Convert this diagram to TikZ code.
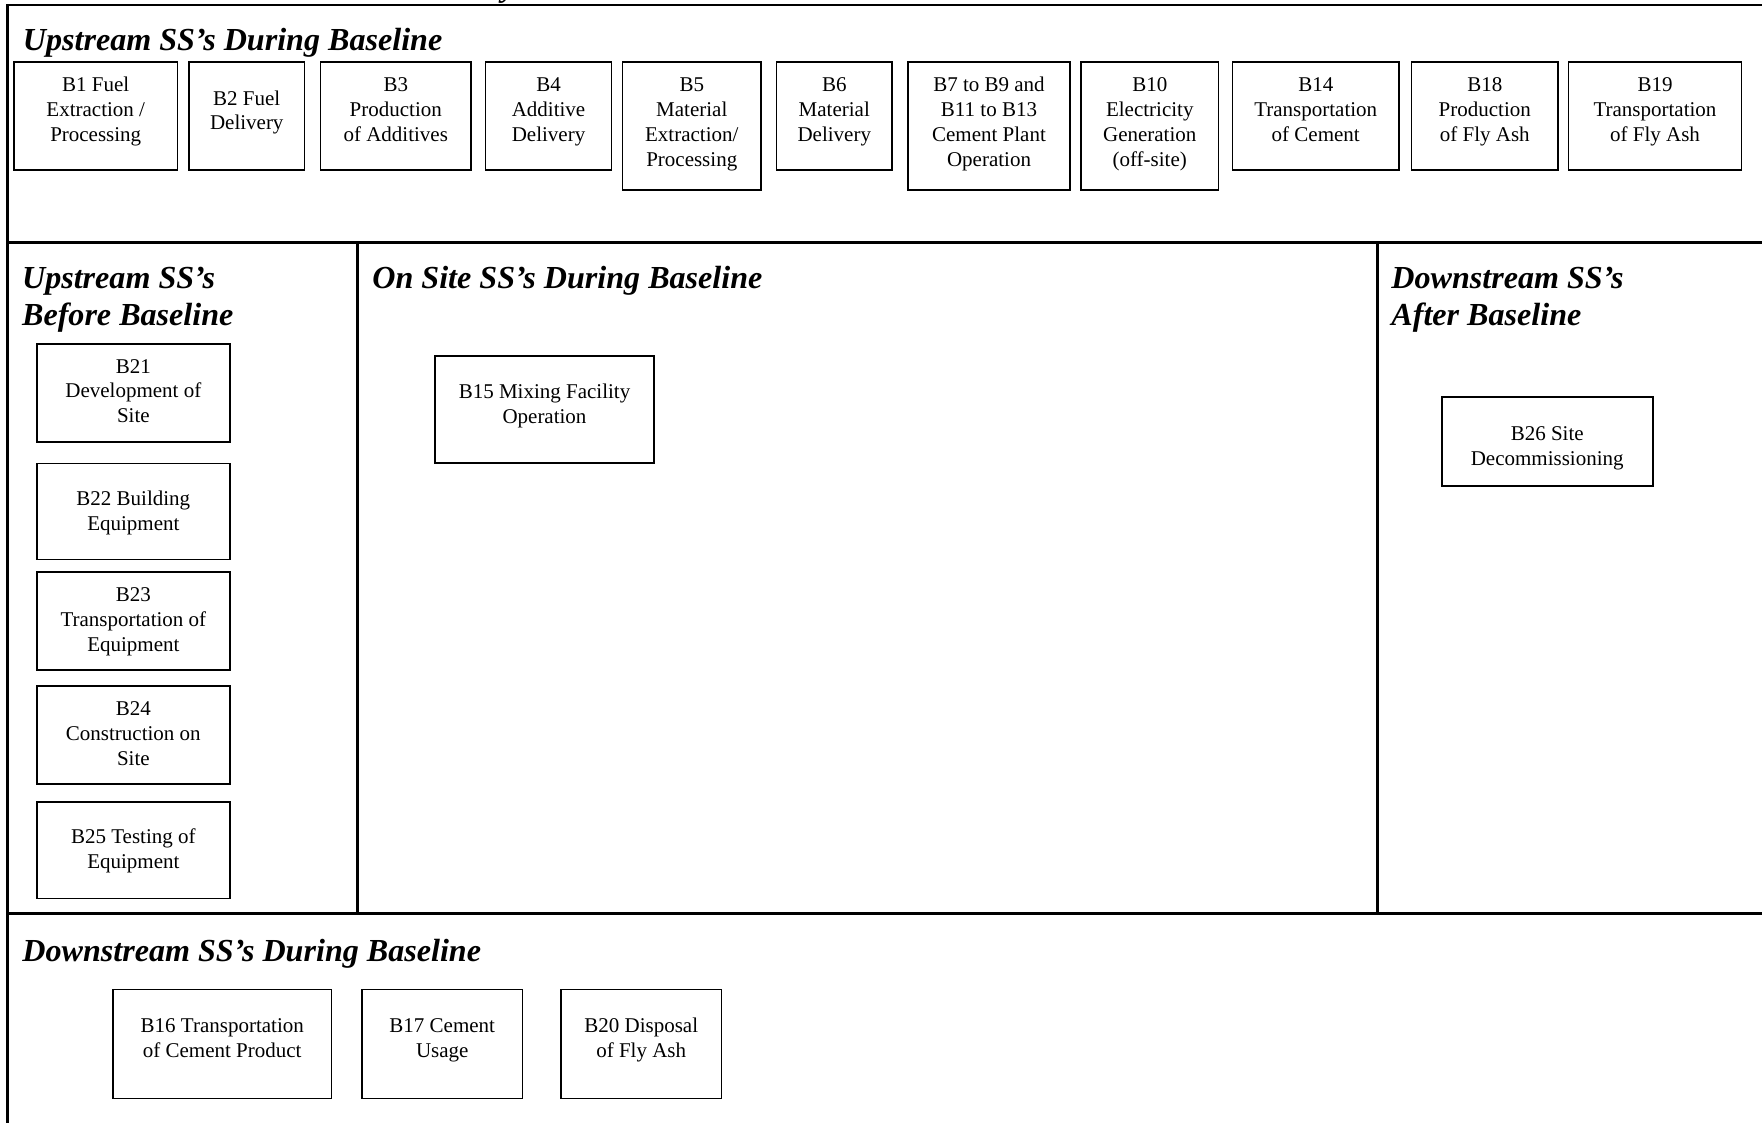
\documentclass[tikz,border=0pt]{standalone}
\usepackage{fontspec}
\setmainfont{Liberation Serif}
\usetikzlibrary{fit,calc}
\newcommand\mlc[1]{\begin{tabular}[t]{@{}c@{}}#1\end{tabular}}
\newcommand\mll[1]{\begin{tabular}[t]{@{}l@{}}#1\end{tabular}}
\tikzset{
  frameline/.style={line width=1.1pt, line cap=rect},
  bbox/.style={draw, line width=0.8pt, inner sep=0pt},
  btxt/.style={anchor=base, inner sep=0pt, font=\fontsize{10.5}{12.4}\selectfont},
  head/.style={anchor=base west, inner sep=0pt, font=\fontsize{16.05}{18.5}\selectfont\bfseries\itshape},
}
\newcommand\bx[7]{%
  \node[bbox, fit={(#2,#3) (#4,#5)}] (#1) {};
  \node[btxt] (#1t) at ($(#1.north)+(0,#6)$) {\mlc{#7}};
}
\begin{document}
\begin{tikzpicture}[x=0.5pt, y=-0.5pt]
\useasboundingbox (0,0) rectangle (1762,1123);
\begin{scope}
  \clip (0,0) rectangle (1762,1123);
  % cut-off title fragment above the frame
  \node[head, anchor=base] (title) at (509,-3) {y};
  % frame
  \draw[frameline] (1780,5) -- (7.5,5) -- (7.5,1140);
  \draw[frameline] (7.5,242.5) -- (1780,242.5);
  \draw[frameline] (7.5,913.5) -- (1780,913.5);
  \draw[frameline] (357.5,242.5) -- (357.5,913.5);
  \draw[frameline] (1377.5,242.5) -- (1377.5,913.5);
\end{scope}

% headings
\node[head] (h1) at (22.5,51) {Upstream SS’s During Baseline};
\node[head] (h2) at (21.7,289) {\mll{Upstream SS’s\\Before Baseline}};
\node[head] (h3) at (372,289) {On Site SS’s During Baseline};
\node[head] (h4) at (1391,289) {\mll{Downstream SS’s\\After Baseline}};
\node[head] (h5) at (22,961.5) {Downstream SS’s During Baseline};

% upstream during baseline
\bx{b1}{14}{62}{177.5}{170}{30.7}{B1 Fuel\\Extraction /\\Processing}
\bx{b2}{189}{62}{304.5}{170}{44}{B2 Fuel\\Delivery}
\bx{b3}{320.5}{62}{471}{170}{30.7}{B3\\Production\\of Additives}
\bx{b4}{485.5}{62}{611.5}{170}{30.7}{B4\\Additive\\Delivery}
\bx{b5}{622.5}{62}{761}{190}{30.7}{B5\\Material\\Extraction/\\Processing}
\bx{b6}{776.5}{62}{892}{170}{30.7}{B6\\Material\\Delivery}
\bx{b7}{908}{62}{1070}{190}{30.7}{B7 to B9 and\\B11 to B13\\Cement Plant\\Operation}
\bx{b10}{1081}{62}{1218.5}{190}{30.7}{B10\\Electricity\\Generation\\(off-site)}
\bx{b14}{1232.5}{62}{1399}{170}{30.7}{B14\\Transportation\\of Cement}
\bx{b18}{1411.5}{62}{1558}{170}{30.7}{B18\\Production\\of Fly Ash}
\bx{b19}{1568.5}{62}{1741.5}{170}{30.7}{B19\\Transportation\\of Fly Ash}

% upstream before baseline
\bx{b21}{36.7}{344.3}{230}{441.7}{29.5}{B21\\Development of\\Site}
\bx{b22}{36.7}{463.3}{230}{559.3}{43}{B22 Building\\Equipment}
\bx{b23}{36.7}{571.7}{230}{670}{31}{B23\\Transportation of\\Equipment}
\bx{b24}{36.7}{685.7}{230}{784}{30.6}{B24\\Construction on\\Site}
\bx{b25}{36.7}{801.7}{230}{898.3}{42.7}{B25 Testing of\\Equipment}

% on site
\bx{b15}{435}{356}{654}{463}{43.4}{B15 Mixing Facility\\Operation}

% downstream after baseline
\bx{b26}{1441.7}{397}{1652.7}{486}{44}{B26 Site\\Decommissioning}

% downstream during baseline
\bx{b16}{113}{989.5}{331.5}{1098.5}{43.7}{B16 Transportation\\of Cement Product}
\bx{b17}{362}{989.5}{522.5}{1098.5}{43.7}{B17 Cement\\Usage}
\bx{b20}{561}{989.5}{721.5}{1098.5}{43.7}{B20 Disposal\\of Fly Ash}
\end{tikzpicture}
\end{document}
